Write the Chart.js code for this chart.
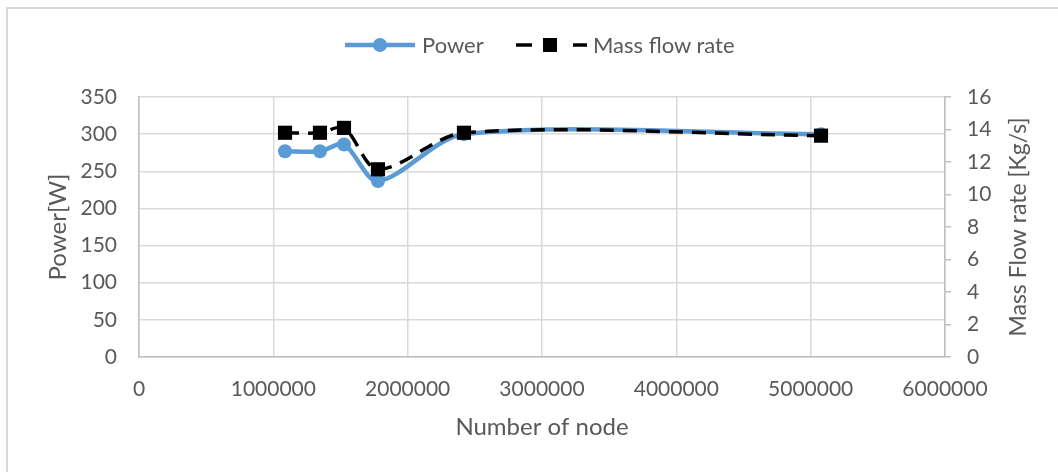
<!DOCTYPE html>
<html>
<head>
<meta charset="utf-8">
<script src="https://cdn.jsdelivr.net/npm/chart.js@4.4.1/dist/chart.umd.min.js"></script>
<style>
    html, body { margin: 0; padding: 0; background: #FFFFFF; overflow: hidden; }
    #frame { position: absolute; left: 6px; top: 7px; width: 2000px; height: 2000px; border: 2px solid #D9D9D9; }
    #wrap { position: absolute; left: 0; top: 0; width: 1058px; height: 472px; }
    .legend { position: absolute; top: 30px; height: 30px; font-family: Lato, sans-serif; font-size: 22px; color: #595959; line-height: 30px; }
    .legend svg { position: absolute; top: 0; }
</style>
</head>
<body>
<div id="frame"></div>
<div id="wrap"><canvas id="chart"></canvas></div>
<div class="legend" style="left:343px;width:160px;">
    <svg width="75" height="30"><line x1="2" y1="15" x2="72" y2="15" stroke="#5B9BD5" stroke-width="4.5" /><circle cx="37" cy="15" r="7" fill="#5B9BD5" /></svg>
    <span style="position:absolute;left:79px;">Power</span>
</div>
<div class="legend" style="left:514px;width:260px;">
    <svg width="75" height="30"><line x1="2" y1="15" x2="18" y2="15" stroke="#000" stroke-width="3.5" /><rect x="29" y="8" width="14" height="14" fill="#000" /><line x1="59" y1="15" x2="73" y2="15" stroke="#000" stroke-width="3.5" /></svg>
    <span style="position:absolute;left:79px;">Mass flow rate</span>
</div>
<script>
    const nodes = [1087000, 1347000, 1526000, 1779000, 2419000, 5077000];
    const power = [277, 277, 286, 237, 300, 300];
    const massFlow = [13.8, 13.8, 14.1, 11.55, 13.8, 13.62];

    const xTitle = "Number of node";
    const yTitle = "Power[W]";
    const y2Title = "Mass Flow rate [Kg/s]";

    const tickColor = "#595959";
    const gridColor = "#D9D9D9";

    // titulos de ejes dibujados a mano (el derecho va girado como el izquierdo)
    const axisTitles = {
        id: "axisTitles",
        afterDraw(chart) {
            const ctx = chart.ctx;
            const area = chart.chartArea;
            const midY = (area.top + area.bottom) / 2;
            ctx.save();
            ctx.fillStyle = tickColor;
            ctx.font = "24px Lato, sans-serif";
            ctx.textAlign = "center";
            ctx.textBaseline = "middle";
            ctx.fillText(xTitle, (area.left + area.right) / 2, 427);
            ctx.translate(58, midY);
            ctx.rotate(-Math.PI / 2);
            ctx.fillText(yTitle, 0, 0);
            ctx.restore();
            ctx.save();
            ctx.fillStyle = tickColor;
            ctx.font = "23px Lato, sans-serif";
            ctx.textAlign = "center";
            ctx.textBaseline = "middle";
            ctx.translate(1019, midY);
            ctx.rotate(-Math.PI / 2);
            ctx.fillText(y2Title, 0, 0);
            ctx.restore();
        }
    };

    const chartData = {
        datasets: [
            {
                label: "Power",
                data: nodes.map((n, i) => ({ x: n, y: power[i] })),
                yAxisID: "y",
                borderColor: "#5B9BD5",
                backgroundColor: "#5B9BD5",
                borderWidth: 4.5,
                pointRadius: 7,
                pointBorderWidth: 0,
                tension: 0.3,
                order: 2
            },
            {
                label: "Mass flow rate",
                data: nodes.map((n, i) => ({ x: n, y: massFlow[i] })),
                yAxisID: "y2",
                borderColor: "#000000",
                backgroundColor: "#000000",
                borderWidth: 3.5,
                borderDash: [14, 9],
                pointStyle: "rect",
                pointRadius: 10,
                pointBorderWidth: 0,
                tension: 0.3,
                order: 1
            }
        ]
    };

    new Chart(document.getElementById("chart"), {
        type: "line",
        data: chartData,
        plugins: [axisTitles],
        options: {
            responsive: true,
            maintainAspectRatio: false,
            animation: false,
            layout: { padding: { top: 97, left: 0, right: 0, bottom: 0 } },
            plugins: {
                legend: { display: false },
                tooltip: { enabled: false }
            },
            scales: {
                x: {
                    type: "linear",
                    min: 0,
                    max: 6000000,
                    afterFit: (s) => { s.height = 115; },
                    ticks: {
                        stepSize: 1000000,
                        color: tickColor,
                        font: { family: "Lato", size: 21 },
                        padding: 20,
                        maxRotation: 0,
                        callback: (v) => String(v)
                    },
                    grid: { color: gridColor, lineWidth: 1.5, drawTicks: false },
                    border: { color: "#BFBFBF", width: 1.5 }
                },
                y: {
                    position: "left",
                    min: 0,
                    max: 350,
                    afterFit: (s) => { s.width = 139; },
                    ticks: {
                        stepSize: 50,
                        color: tickColor,
                        font: { family: "Lato", size: 21 },
                        padding: 22
                    },
                    grid: { color: gridColor, lineWidth: 1.5, drawTicks: false },
                    border: { color: "#BFBFBF", width: 1.5 }
                },
                y2: {
                    position: "right",
                    min: 0,
                    max: 16,
                    afterFit: (s) => { s.width = 113; },
                    ticks: {
                        stepSize: 2,
                        color: tickColor,
                        font: { family: "Lato", size: 21 },
                        padding: 16
                    },
                    grid: { drawOnChartArea: false, color: "#BFBFBF", lineWidth: 1.5, tickLength: 6 },
                    border: { color: "#BFBFBF", width: 1.5 }
                }
            }
        }
    });
</script>
</body>
</html>
